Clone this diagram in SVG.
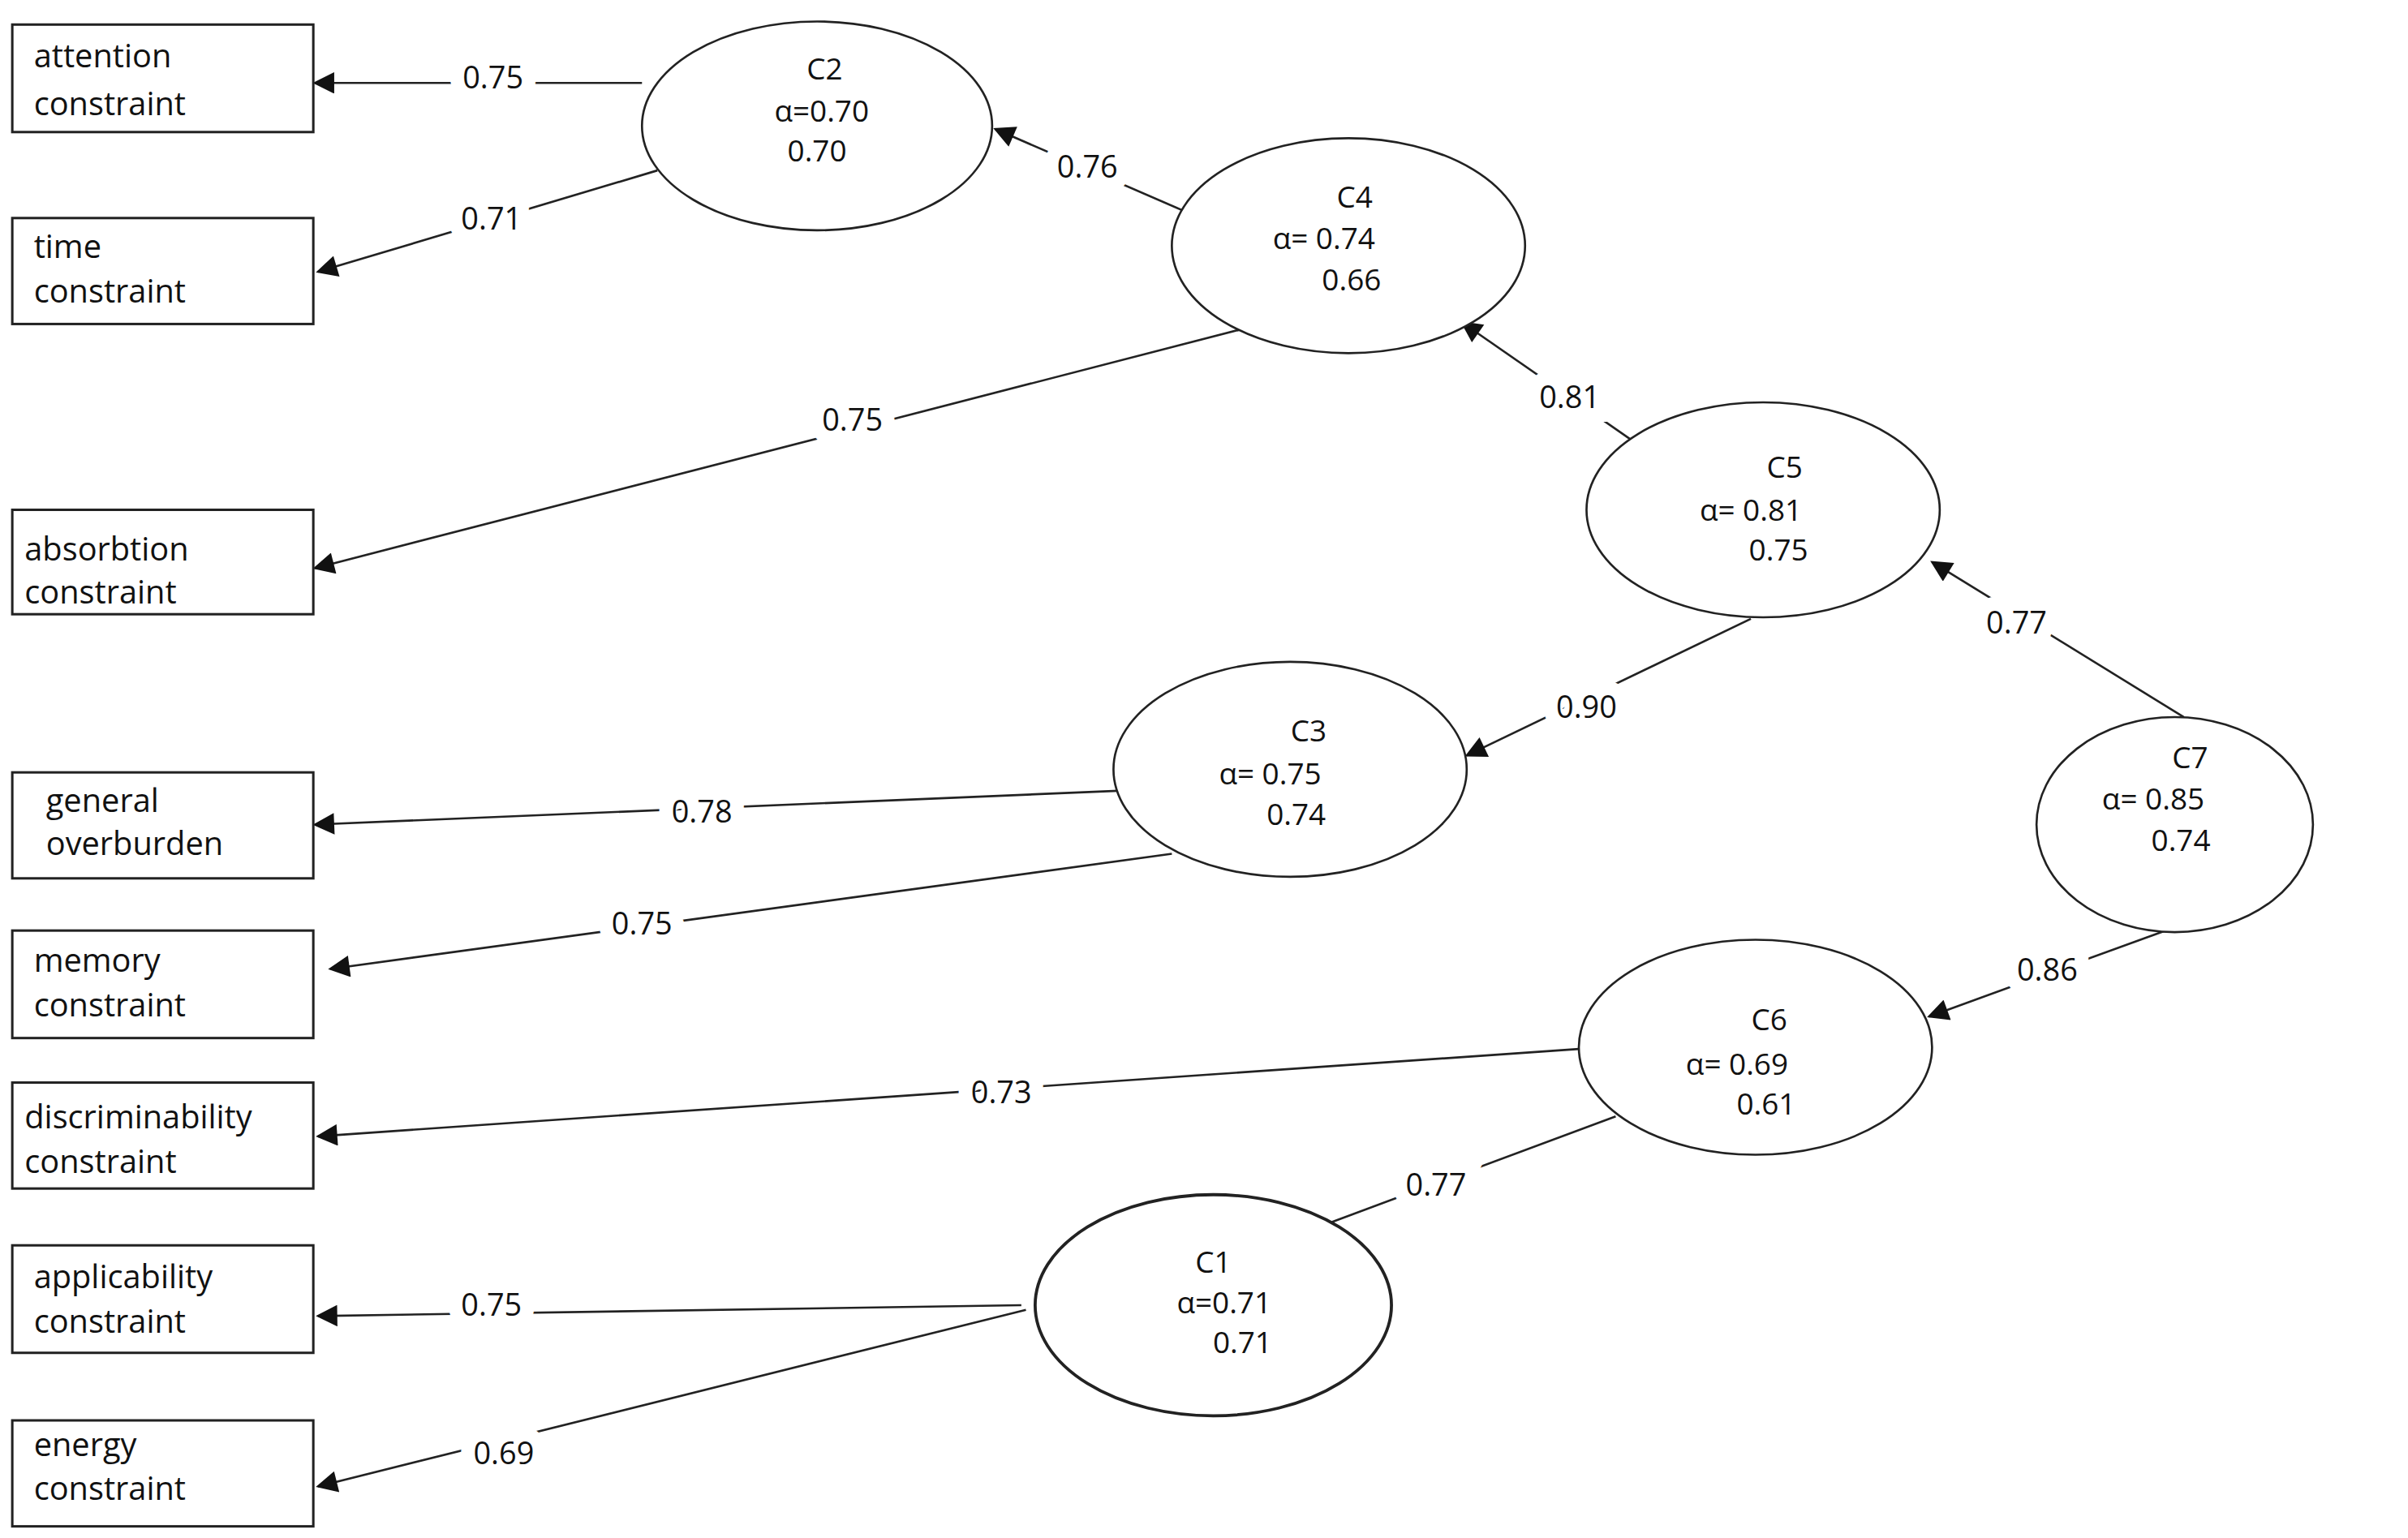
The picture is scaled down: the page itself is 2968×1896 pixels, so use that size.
<svg xmlns="http://www.w3.org/2000/svg" width="2968" height="1896" viewBox="0 0 2968 1896">
<style>
.b{fill:#fff;stroke:#222;stroke-width:1.6}
.e{fill:#fff;stroke:#222;stroke-width:1.4}
.t{font-family:"Open Sans","Liberation Sans",sans-serif;font-size:21px;fill:#111}
.n{font-size:19.5px}
.c{text-anchor:middle}
.l{stroke:#222;stroke-width:1.4;fill:none;marker-end:url(#a)}
.w{font-family:"Open Sans","Liberation Sans",sans-serif;font-size:20px;fill:#111;text-anchor:middle;dominant-baseline:central;stroke:#fff;stroke-width:18;paint-order:stroke}
</style>
<defs><marker id="a" viewBox="0 0 10 10" refX="9" refY="5" markerWidth="15" markerHeight="14" markerUnits="userSpaceOnUse" orient="auto"><path d="M0,0 L10,5 L0,10 Z" fill="#111"/></marker></defs>
<rect width="2968" height="1896" fill="#fff"/>
<g transform="scale(1.893)">
<g id="connectors">
<line class="l" x1="418" y1="54" x2="205" y2="54"/><text class="w" x="321" y="50">0.75</text>
<line class="l" x1="428" y1="111" x2="207" y2="177"/><text class="w" x="320" y="142">0.71</text>
<line class="l" x1="770" y1="137" x2="648" y2="84"/><text class="w" x="708" y="108">0.76</text>
<line class="l" x1="810" y1="214" x2="205" y2="370"/><text class="w" x="555" y="273">0.75</text>
<line class="l" x1="1063" y1="287" x2="952" y2="210"/><text class="w" x="1022" y="258">0.81</text>
<line class="l" x1="1140" y1="403" x2="955" y2="492"/><text class="w" x="1033" y="460">0.90</text>
<line class="l" x1="1422" y1="467" x2="1258" y2="366"/><text class="w" x="1313" y="405">0.77</text>
<line class="l" x1="728" y1="515" x2="205" y2="537"/><text class="w" x="457" y="528">0.78</text>
<line class="l" x1="763" y1="556" x2="215" y2="631"/><text class="w" x="418" y="601">0.75</text>
<line class="l" x1="1410" y1="606" x2="1256" y2="662"/><text class="w" x="1333" y="631">0.86</text>
<line class="l" x1="1030" y1="683" x2="207" y2="740"/><text class="w" x="652" y="711">0.73</text>
<line class="l" x1="1052" y1="727" x2="864" y2="797" style="marker-end:none"/><text class="w" x="935" y="771">0.77</text>
<line class="l" x1="665" y1="850" x2="207" y2="857"/><text class="w" x="320" y="849">0.75</text>
<line class="l" x1="668" y1="853" x2="207" y2="968"/><text class="w" x="328" y="946">0.69</text>
</g>
<g id="attention"><rect class="b" x="8" y="16" width="196" height="70"/><text class="t" x="22" y="44">attention</text><text class="t" x="22" y="75">constraint</text></g>
<g id="time"><rect class="b" x="8" y="142" width="196" height="69"/><text class="t" x="22" y="168">time</text><text class="t" x="22" y="197">constraint</text></g>
<g id="absorbtion"><rect class="b" x="8" y="332" width="196" height="68"/><text class="t" x="16" y="365">absorbtion</text><text class="t" x="16" y="393">constraint</text></g>
<g id="general"><rect class="b" x="8" y="503" width="196" height="69"/><text class="t" x="30" y="529">general</text><text class="t" x="30" y="557">overburden</text></g>
<g id="memory"><rect class="b" x="8" y="606" width="196" height="70"/><text class="t" x="22" y="633">memory</text><text class="t" x="22" y="662">constraint</text></g>
<g id="discriminability"><rect class="b" x="8" y="705" width="196" height="69"/><text class="t" x="16" y="735">discriminability</text><text class="t" x="16" y="764">constraint</text></g>
<g id="applicability"><rect class="b" x="8" y="811" width="196" height="70"/><text class="t" x="22" y="839">applicability</text><text class="t" x="22" y="868">constraint</text></g>
<g id="energy"><rect class="b" x="8" y="925" width="196" height="69"/><text class="t" x="22" y="948">energy</text><text class="t" x="22" y="977">constraint</text></g>
<g id="C2"><ellipse class="e" cx="532" cy="82" rx="114" ry="68"/><text class="t n c" x="537" y="52">C2</text><text class="t n c" x="535" y="79">α=0.70</text><text class="t n c" x="532" y="105">0.70</text></g>
<g id="C4"><ellipse class="e" cx="878" cy="160" rx="115" ry="70"/><text class="t n c" x="882" y="135">C4</text><text class="t n c" x="862" y="162">α= 0.74</text><text class="t n c" x="880" y="189">0.66</text></g>
<g id="C5"><ellipse class="e" cx="1148" cy="332" rx="115" ry="70"/><text class="t n c" x="1162" y="311">C5</text><text class="t n c" x="1140" y="339">α= 0.81</text><text class="t n c" x="1158" y="365">0.75</text></g>
<g id="C3"><ellipse class="e" cx="840" cy="501" rx="115" ry="70"/><text class="t n c" x="852" y="483">C3</text><text class="t n c" x="827" y="511">α= 0.75</text><text class="t n c" x="844" y="537">0.74</text></g>
<g id="C7"><ellipse class="e" cx="1416" cy="537" rx="90" ry="70"/><text class="t n c" x="1426" y="500">C7</text><text class="t n c" x="1402" y="527">α= 0.85</text><text class="t n c" x="1420" y="554">0.74</text></g>
<g id="C6"><ellipse class="e" cx="1143" cy="682" rx="115" ry="70"/><text class="t n c" x="1152" y="671">C6</text><text class="t n c" x="1131" y="700">α= 0.69</text><text class="t n c" x="1150" y="726">0.61</text></g>
<g id="C1"><ellipse class="e" cx="790" cy="850" rx="116" ry="72" style="stroke-width:2"/><text class="t n c" x="790" y="829">C1</text><text class="t n c" x="797" y="855">α=0.71</text><text class="t n c" x="809" y="881">0.71</text></g>
</g>
</svg>
